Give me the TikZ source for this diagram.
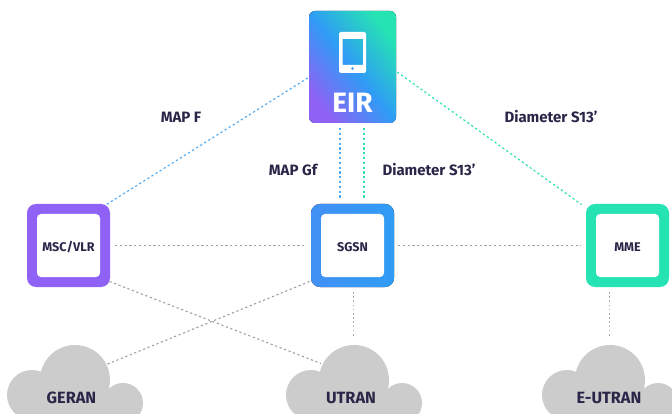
\documentclass[tikz,border=0pt]{standalone}
\usepackage{fontspec}
\setmainfont{Fira Sans}
\usetikzlibrary{calc}
\definecolor{ink}{HTML}{2A2648}
\definecolor{cloudc}{HTML}{CCCCCC}
\definecolor{linkc}{HTML}{A0A0A0}
\definecolor{vio}{HTML}{8F62F5}
\definecolor{blu}{HTML}{2F9CF5}
\definecolor{grn}{HTML}{26E3B3}
\tikzset{
  x=1pt,y=-1pt,
  lbl/.style={font=\bfseries\fontsize{15}{17}\selectfont,text=ink,inner sep=0pt},
  boxlbl/.style={font=\bfseries\fontsize{12.6}{14}\selectfont,text=ink,inner sep=0pt},
  cloudlbl/.style={font=\bfseries\fontsize{16.3}{18}\selectfont,text=ink,inner sep=0pt},
  netbox/.style={minimum width=63pt,minimum height=63pt,inner sep=0pt,outer sep=10pt,fill=white,rounded corners=4pt},
  link/.style={line width=1.1pt,dash pattern=on 2.2pt off 2.6pt},
  greylink/.style={link,draw=linkc},
  vertlink/.style={line width=1.4pt,dash pattern=on 1.6pt off 2.6pt,draw=linkc!90!white},
  bluelink/.style={link,draw=blu!85!white,line width=1.15pt},
  greenlink/.style={link,draw=grn,line width=1.15pt},
}
\newcommand{\cloudat}[1]{%
  \begin{scope}[shift={(#1,0)}]
    \fill[cloudc] (75,380) circle[radius=35];
    \fill[cloudc] (32,395) circle[radius=25];
    \fill[cloudc] (123,403) circle[radius=20];
    \fill[cloudc] (32,392) rectangle (123,420);
  \end{scope}}
\begin{document}
\begin{tikzpicture}
\useasboundingbox (0,0) rectangle (672,414);
\clip (0,0) rectangle (672,414);
\fill[white] (0,0) rectangle (672,414);
% clouds
\cloudat{0}\cloudat{279}\cloudat{535}
\node[cloudlbl] (geran) at (71.5,397.5) {GERAN};
\node[cloudlbl] (utran) at (351,397.5) {UTRAN};
\node[cloudlbl] (eutran) at (609,397.5) {E-UTRAN};
% EIR
\fill[rounded corners=6pt,shading=axis,left color=grn,right color=vio,middle color=blu,shading angle=-52]
  (309,11) rectangle (396,123);
\node[minimum width=87pt,minimum height=112pt,inner sep=0pt] (eir) at (352.5,67) {};
\fill[white,even odd rule,rounded corners=2pt] (339,32) rectangle (366,73)
  [sharp corners] (342.5,39) rectangle (363,65);
\fill[blu] (352.5,68.5) circle[radius=1.3];
\node[font=\bfseries\fontsize{28}{30}\selectfont,text=white,inner sep=0pt] (eirt) at (352.5,103) {EIR};
% network boxes
\fill[vio,rounded corners=9pt] (27,204) rectangle (110,287);
\fill[rounded corners=9pt,left color=blu!80!vio,right color=blu] (311,204) rectangle (394,287);
\fill[grn,rounded corners=9pt] (586,204) rectangle (669,287);
\node[netbox] (msc) at (68.5,245.5) {};
\node[netbox] (sgsn) at (352.5,245.5) {};
\node[netbox] (mme) at (627.5,245.5) {};
\node[boxlbl] at (68.5,247) {MSC/VLR};
\node[boxlbl] at (352.5,247) {SGSN};
\node[boxlbl] at (627.5,247) {MME};
% connectors
\draw[bluelink] ([shift={(-1,11)}]eir.west) -- ([shift={(38,-41)}]msc.center);
\draw[greenlink] ([shift={(1,5)}]eir.east) -- ([shift={(-46,-41)}]mme.center);
\draw[bluelink] ([shift={(-12.5,5)}]eir.south) -- ([shift={(-12.5,-4)}]sgsn.north);
\draw[greenlink] ([shift={(11.5,5)}]eir.south) -- ([shift={(11.5,-4)}]sgsn.north);
\draw[greylink] ([xshift=5pt]msc.east) -- ([xshift=-4pt]sgsn.west);
\draw[greylink] ([xshift=4pt]sgsn.east) -- ([xshift=-5pt]mme.west);
\draw[greylink] ([shift={(41,36)}]msc.center) -- ([shift={(-30,-34)}]utran.center);
\draw[greylink] ([shift={(-43,36)}]sgsn.center) -- ([shift={(35,-33)}]geran.center);
\draw[vertlink] ([shift={(1,5)}]sgsn.south) -- ([shift={(1,50)}]sgsn.south);
\draw[vertlink] ([shift={(-18,5)}]mme.south) -- ([shift={(-18,50)}]mme.south);
% labels
\node[lbl] at (181,117) {MAP F};
\node[lbl] at (293,169.5) {MAP Gf};
\node[lbl] at (429,169.5) {Diameter S13'};
\node[lbl] at (551,117) {Diameter S13'};
\end{tikzpicture}
\end{document}
